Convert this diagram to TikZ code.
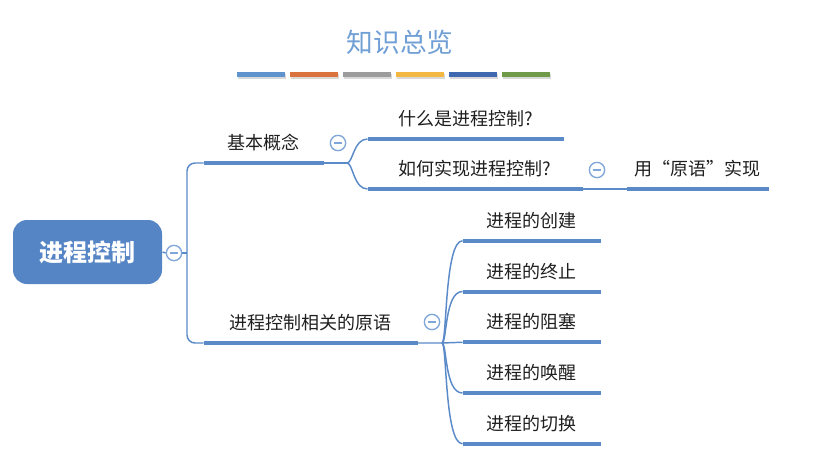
\documentclass[tikz,border=0pt]{standalone}
\usepackage{fontspec}
\setmainfont{Noto Sans CJK SC}
\definecolor{mapblue}{HTML}{5A8AC8}
\definecolor{rootfill}{HTML}{5585C5}
\definecolor{btnline}{HTML}{7FA7DA}
\definecolor{titleblue}{HTML}{6F9FD4}
\definecolor{barA}{HTML}{5E93CE}
\definecolor{barB}{HTML}{DB733F}
\definecolor{barC}{HTML}{9C9C9C}
\definecolor{barD}{HTML}{F2B843}
\definecolor{barE}{HTML}{4068B0}
\definecolor{barF}{HTML}{6F9B49}
\tikzset{every picture/.style={line width=0.75pt},
  topic/.style={anchor=south, minimum height=27pt, inner sep=0pt, text height=0.88em, text depth=0.12em, text=black!88, font=\fontsize{13.5pt}{15pt}\selectfont},
  rootbox/.style={fill=rootfill, rounded corners=10.5pt, minimum width=111.75pt, minimum height=48pt, text=white, font=\fontsize{18pt}{20pt}\selectfont\bfseries},
  bar/.style={draw=mapblue, line width=3pt},
  link/.style={draw=mapblue, line width=1.1pt},
  fold/.style={circle, draw=btnline, fill=white, line width=1pt, minimum size=11.5pt, inner sep=0pt,
    path picture={\draw[btnline, line width=1pt] ([xshift=-3pt]path picture bounding box.center) -- ([xshift=3pt]path picture bounding box.center);}},
}
\begin{document}
\begin{tikzpicture}[x=0.75pt,y=0.75pt,yscale=-1,xscale=1]
	\useasboundingbox (0,0) rectangle (813,468);
	
	%Title
	\node[text=titleblue, font=\fontsize{20pt}{22pt}\selectfont] (ttl) at (400,42) {知识总览};
	%Colour bars
	\foreach \c [count=\i] in {barA,barB,barC,barD,barE,barF} {
		\fill[black!15] (238+53*\i-53,74) rectangle ++(48,5);
		\fill[\c] (237+53*\i-53,72) rectangle ++(48,5);
	}
	
	%Root
	\node[rootbox] (root) at (87.5,252) {进程控制};
	\node[fold] (f0) at (174,253) {};
	
	%Topics
	\node[topic, minimum width=89.25pt] (bk) at (263.5,163) {基本概念};
	\node[topic, minimum width=159.75pt] (yy) at (310.5,343) {进程控制相关的原语};
	\node[topic, minimum width=146.25pt] (q1) at (465.5,139) {什么是进程控制?};
	\node[topic, minimum width=160.5pt] (q2) at (475,189) {如何实现进程控制?};
	\node[topic, minimum width=105.75pt] (q3) at (697.5,189) {用“原语”实现};
	\foreach \t [count=\i] in {创建,终止,阻塞,唤醒,切换} {
		\node[topic, minimum width=102.75pt] (p\i) at (531.5,190+50.75*\i) {进程的\t};
	}
	
	%Underlines
	\foreach \n in {bk,yy,q1,q2,q3,p1,p2,p3,p4,p5}
		\draw[bar] (\n.south west) -- (\n.south east);
	
	%Straight Lines
	\coordinate (j0) at (187,253);
	\coordinate (j1) at (347,163);
	\coordinate (j3) at (442,343);
	\draw[link] (root.east) -- (f0.west);
	\draw[link] (f0.east) -- (j0);
	\draw[link, rounded corners=6pt] (j0) |- (bk.south west);
	\draw[link, rounded corners=6pt] (j0) |- (yy.south west);
	\draw[link] (bk.south east) -- (j1);
	\draw[link] (q2.south east) -- (q3.south west);
	\draw[link] (yy.south east) -- (j3) -- (p3.south west);
	
	%Curve Lines
	\draw[link] (j1) .. controls +(6,0) and +(-14,0) .. (q1.south west);
	\draw[link] (j1) .. controls +(6,0) and +(-14,0) .. (q2.south west);
	\foreach \i in {1,2,4,5}
		\draw[link] (j3) .. controls +(5,0) and +(-18,0) .. (p\i.south west);
	
	%Fold buttons
	\node[fold] (f1) at (338,143) {};
	\node[fold] (f2) at (597,170) {};
	\node[fold] (f3) at (432,322) {};
	
\end{tikzpicture}
\end{document}
